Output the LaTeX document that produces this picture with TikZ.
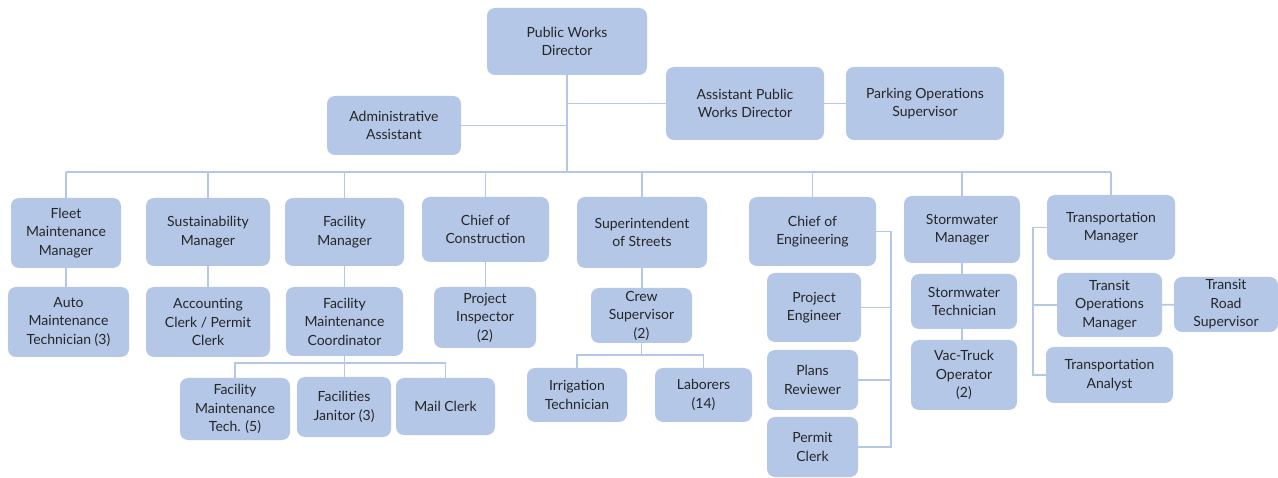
\documentclass[tikz,border=0pt]{standalone}
\usepackage{fontspec}
\setmainfont{Lato}
\usetikzlibrary{backgrounds}
\definecolor{boxfill}{HTML}{B4C7E7}
\definecolor{linec}{HTML}{B4C7E7}
\definecolor{txt}{HTML}{262626}
\begin{document}
\begin{tikzpicture}[x=1pt,y=-1pt,
  bx/.style 2 args={rectangle, rounded corners=8pt, fill=boxfill, draw=none,
    minimum width=#1, minimum height=#2, inner sep=1pt, align=center,
    text=txt, font=\fontsize{14}{18.5}\selectfont},
  conn/.style={draw=linec, line width=1.8pt}]
\useasboundingbox (0,0) rectangle (1278,478);

% top
\node[bx={160}{67}] (pwd) at (567,41.5) {Public Works\\Director};
\node[bx={134}{59}] (adm) at (394,125.5) {Administrative\\Assistant};
\node[bx={158}{73}] (apwd) at (745,103.5) {Assistant Public\\Works Director};
\node[bx={158}{73}] (pos) at (925,103.5) {Parking Operations\\Supervisor};

% row 2
\node[bx={110}{70}] (fmm) at (66,233) {Fleet\\Maintenance\\Manager};
\node[bx={124}{68}] (sm) at (208,232) {Sustainability\\Manager};
\node[bx={119}{68}] (fm) at (344.5,232) {Facility\\Manager};
\node[bx={127}{65}] (coc) at (485.5,229.5) {Chief of\\Construction};
\node[bx={130}{71}] (sos) at (642,232.5) {Superintendent\\of Streets};
\node[bx={127}{69}] (coe) at (812.5,231.5) {Chief of\\Engineering};
\node[bx={116}{67}] (swm) at (962,229.5) {Stormwater\\Manager};
\node[bx={128}{65}] (tm) at (1111,227.5) {Transportation\\Manager};

% row 3
\node[bx={121}{70}] (amt) at (68.5,322) {Auto\\Maintenance\\Technician (3)};
\node[bx={124}{70}] (acc) at (208,322) {Accounting\\Clerk / Permit\\Clerk};
\node[bx={117}{69}] (fmc) at (344.5,321.5) {Facility\\Maintenance\\Coordinator};
\node[bx={102}{61}] (pi) at (485,317.5) {Project\\Inspector\\(2)};
\node[bx={101}{55}] (cs) at (641.5,315.5) {Crew\\Supervisor\\(2)};
\node[bx={94}{69}] (pe) at (814,307.5) {Project\\Engineer};
\node[bx={91}{60}] (pr) at (812.5,380) {Plans\\Reviewer};
\node[bx={91}{60}] (pc) at (812.5,447) {Permit\\Clerk};
\node[bx={106}{55}] (swt) at (964,301.5) {Stormwater\\Technician};
\node[bx={106}{70}] (vto) at (964,375) {Vac-Truck\\Operator\\(2)};
\node[bx={105}{64}] (tom) at (1109.5,305) {Transit\\Operations\\Manager};
\node[bx={104}{55}] (trs) at (1226,304.5) {Transit\\Road\\Supervisor};
\node[bx={127}{56}] (ta) at (1109.5,375) {Transportation\\Analyst};

% row 4
\node[bx={110}{62}] (fmt) at (235,409) {Facility\\Maintenance\\Tech. (5)};
\node[bx={94}{60}] (fj) at (344,407) {Facilities\\Janitor (3)};
\node[bx={99}{57}] (mc) at (445.5,406.5) {Mail Clerk};
\node[bx={100}{54}] (it) at (577,395) {Irrigation\\Technician};
\node[bx={97}{54}] (lab) at (703.5,395) {Laborers\\(14)};

\coordinate (bus) at (0,172);
\coordinate (fbus) at (0,363);
\coordinate (cbus) at (0,355);
\coordinate (erail) at (891,0);
\coordinate (trail) at (1033,0);

\begin{scope}[on background layer]
\fill[white] (0,0) rectangle (1278,478);
\draw[conn] (pwd) -- (pwd |- bus);
\draw[conn] (adm) -- (adm -| pwd);
\draw[conn] (apwd) -- (apwd -| pwd);
\draw[conn] (apwd) -- (pos);
\draw[conn] (fmm |- bus) -- (tm |- bus);
\foreach \n in {fmm,sm,fm,coc,sos,coe,swm,tm} \draw[conn] (\n) -- (\n |- bus);
\draw[conn] (fmm) -- (fmm |- amt);
\draw[conn] (sm) -- (acc);
\draw[conn] (fm) -- (fmc);
\draw[conn] (coc) -- (coc |- pi);
\draw[conn] (sos) -- (sos |- cs);
\draw[conn] (swm) -- (swm |- vto);
\draw[conn] (fmc) -- (fmc |- fj);
\draw[conn] (fmt) -- (fmt |- fbus) -- (mc |- fbus) -- (mc);
\draw[conn] (cs) -- (cs |- cbus);
\draw[conn] (it) -- (it |- cbus) -- (lab |- cbus) -- (lab);
\draw[conn] (coe) -- (coe -| erail) -- (pc -| erail) -- (pc);
\draw[conn] (pe) -- (pe -| erail);
\draw[conn] (pr) -- (pr -| erail);
\draw[conn] (tm) -- (tm -| trail) -- (ta -| trail) -- (ta);
\draw[conn] (tom) -- (tom -| trail);
\draw[conn] (tom) -- (trs);
\end{scope}
\end{tikzpicture}
\end{document}
